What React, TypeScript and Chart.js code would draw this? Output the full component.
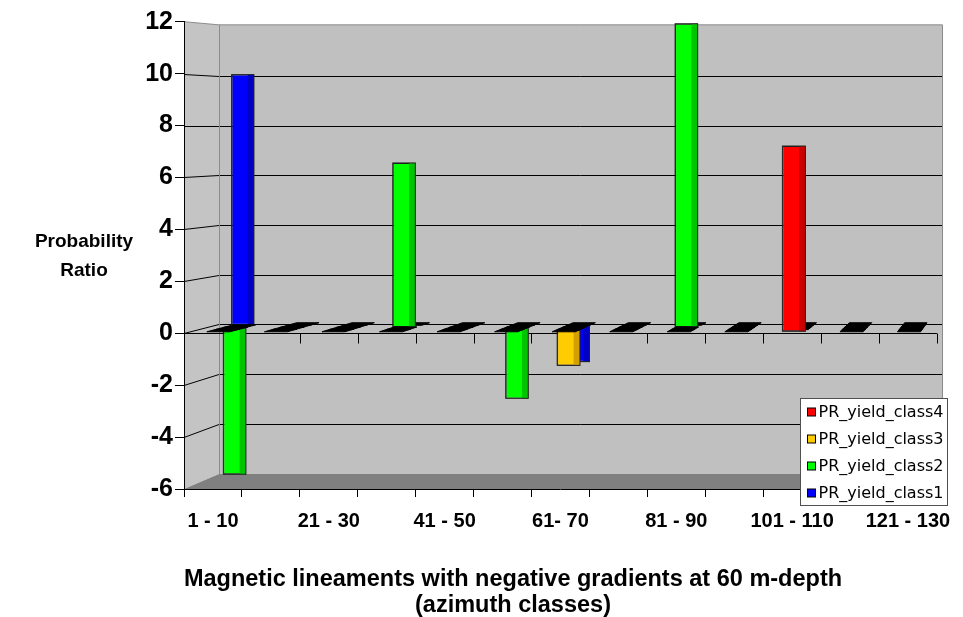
import React, { useEffect, useRef } from 'react';
import { Chart, registerables } from 'chart.js';

Chart.register(...registerables);

// ---------- data ----------
const categories = [
  '1 - 10', '11 - 20', '21 - 30', '31 - 40', '41 - 50', '51 - 60', '61- 70',
  '71 - 80', '81 - 90', '91 - 100', '101 - 110', '111 - 120', '121 - 130',
];
const seriesNames = ['PR_yield_class4', 'PR_yield_class3', 'PR_yield_class2', 'PR_yield_class1'];
const class4 = [0, 0, 0, 0, 0, 0, 0, 0, 0, 0, 7.2, 0, 0];
const class3 = [0, 0, 0, 0, 0, 0, -1.4, 0, 0, 0, 0, 0, 0];
const class2 = [-5.8, 0, 0, 6.5, 0, -2.8, 0, 0, 12, 0, 0, 0, 0];
const class1 = [10, 0, 0, 0, 0, 0, -1.45, 0, 0, 0, 0, 0, 0];
const yMin = -6;
const yMax = 12;
const yStep = 2;
const yTitle = ['Probability', 'Ratio'];
const xTitle = ['Magnetic lineaments with negative gradients at 60 m-depth', '(azimuth classes)'];

// ---------- styles ----------
const COLORS = ['#FF0000', '#FFCC00', '#00FF00', '#0000FF'];
const SHADES = ['#C80000', '#D2A000', '#00C400', '#0000C0'];
const BORDER = '#202020';
const DEPTH = [0.16, 0.4, 0.64, 0.88];
const WALL = { dx: 35, dy: -9, k: 0.961 };
const FONT = "'Liberation Sans', Arial, sans-serif";

const threeD = {
  id: 'threeD',
  beforeDraw(chart: any) {
    const { ctx, chartArea: a, scales } = chart;
    const ys = scales.y;
    const xs = scales.x;
    const z = ys.getPixelForValue(0);
    const B = (x: number, y: number) => [a.left + WALL.dx + (x - a.left) * WALL.k, z + WALL.dy + (y - z) * WALL.k];
    const poly = (pts: number[][], fill: string) => {
      ctx.beginPath();
      pts.forEach((p, i) => (i ? ctx.lineTo(p[0], p[1]) : ctx.moveTo(p[0], p[1])));
      ctx.closePath();
      ctx.fillStyle = fill;
      ctx.fill();
    };
    const line = (pts: number[][]) => {
      ctx.beginPath();
      pts.forEach((p, i) => (i ? ctx.lineTo(p[0], p[1]) : ctx.moveTo(p[0], p[1])));
      ctx.stroke();
    };
    ctx.save();
    poly([[a.left, a.top], B(a.left, a.top), B(a.left, a.bottom), [a.left, a.bottom]], '#C4C4C4');
    poly([B(a.left, a.top), B(a.right, a.top), B(a.right, a.bottom), B(a.left, a.bottom)], '#C0C0C0');
    poly([[a.left, a.bottom], B(a.left, a.bottom), B(a.right, a.bottom), [a.right, a.bottom]], '#808080');

    ctx.lineWidth = 1;
    ctx.strokeStyle = '#000';
    ys.ticks.forEach((t: any) => {
      if (t.value <= ys.min || t.value >= ys.max) return;
      const yf = Math.round(ys.getPixelForValue(t.value)) + 0.5;
      const p = B(a.left, yf);
      const q = B(a.right, yf);
      line([[a.left, yf], [p[0], Math.round(p[1]) + 0.5], [q[0], Math.round(q[1]) + 0.5]]);
    });

    ctx.strokeStyle = '#8C8C8C';
    const tl = B(a.left, a.top);
    const tr = B(a.right, a.top);
    const br = B(a.right, a.bottom);
    const bl = B(a.left, a.bottom);
    line([[a.left, a.top], tl, tr, br]);
    line([[Math.round(tl[0]) + 0.5, tl[1]], [Math.round(bl[0]) + 0.5, bl[1]]]);

    // front zero plane edge with ticks
    ctx.strokeStyle = '#000';
    const zz = Math.round(z) + 0.5;
    line([[a.left, zz], [a.right, zz]]);
    const n = categories.length;
    const half = (xs.getPixelForValue(1) - xs.getPixelForValue(0)) / 2;
    for (let i = 1; i <= n; i++) {
      const bx = Math.round(xs.getPixelForValue(i - 1) + half) + 0.5;
      line([[bx, zz], [bx, zz + 10]]);
    }
    ctx.restore();
  },
  beforeDatasetDraw(chart: any, args: any) {
    const { ctx, chartArea: a, scales } = chart;
    const z = scales.y.getPixelForValue(0);
    const t = DEPTH[args.index];
    const s = 1 - t * (1 - WALL.k);
    const tx = t * (a.left + WALL.dx - WALL.k * a.left);
    const ty = t * (z + WALL.dy - WALL.k * z);
    ctx.save();
    ctx.translate(tx, ty);
    ctx.scale(s, s);
  },
  afterDatasetDraw(chart: any, args: any) {
    const { ctx, chartArea: a, scales } = chart;
    const z = scales.y.getPixelForValue(0);
    const i = args.index;
    const ds = chart.data.datasets[i];
    args.meta.data.forEach((el: any, j: number) => {
      const v = ds.data[j];
      const { x, y, base, width } = el.getProps(['x', 'y', 'base', 'width'], true);
      if (v !== 0) {
        const top = Math.min(y, base);
        const h = Math.abs(base - y);
        const sw = width * 0.28;
        ctx.fillStyle = SHADES[i];
        ctx.fillRect(x + width / 2 - sw, top, sw, h);
        ctx.strokeStyle = BORDER;
        ctx.lineWidth = 1;
        ctx.strokeRect(x - width / 2, top, width, h);
      }
      if (v <= 0) {
        const d = 0.3;
        const ddx = d * (WALL.dx + (WALL.k - 1) * (x - a.left));
        const ddy = d * WALL.dy;
        ctx.beginPath();
        ctx.moveTo(x - width / 2, z);
        ctx.lineTo(x + width / 2, z);
        ctx.lineTo(x + width / 2 + ddx, z + ddy);
        ctx.lineTo(x - width / 2 + ddx, z + ddy);
        ctx.closePath();
        ctx.fillStyle = '#000';
        ctx.fill();
        ctx.strokeStyle = '#000';
        ctx.lineWidth = 1;
        ctx.stroke();
      }
    });
    ctx.restore();
  },
  afterDraw(chart: any) {
    const { ctx, chartArea: a } = chart;
    ctx.save();
    // axis titles
    ctx.fillStyle = '#000';
    ctx.textAlign = 'center';
    ctx.textBaseline = 'middle';
    ctx.font = `bold 19px ${FONT}`;
    ctx.fillText(yTitle[0], a.left - 100, 242);
    ctx.fillText(yTitle[1], a.left - 100, 271);
    ctx.font = `bold 23.5px ${FONT}`;
    ctx.fillText(xTitle[0], a.left + 329, 580);
    ctx.fillText(xTitle[1], a.left + 329, 606);

    // legend
    const lx = 800.5;
    const ly = 398.5;
    const lw = 147;
    const lh = 107;
    ctx.fillStyle = '#fff';
    ctx.fillRect(lx, ly, lw, lh);
    ctx.strokeStyle = '#505050';
    ctx.lineWidth = 1;
    ctx.strokeRect(lx, ly, lw, lh);
    ctx.font = `16px 'DejaVu Sans', sans-serif`;
    ctx.textAlign = 'left';
    chart.data.datasets.forEach((ds: any, i: number) => {
      const cy = ly + 13.5 + i * 27;
      ctx.fillStyle = ds.backgroundColor;
      ctx.fillRect(lx + 7, Math.round(cy) - 4, 8, 8);
      ctx.strokeStyle = '#000';
      ctx.strokeRect(lx + 7, Math.round(cy) - 4, 8, 8);
      ctx.fillStyle = '#000';
      ctx.fillText(ds.label, lx + 18, cy + 1);
    });
    ctx.restore();
  },
};

export default function App() {
  const ref = useRef<HTMLCanvasElement>(null);
  useEffect(() => {
    const seriesData = [class4, class3, class2, class1];
    const chart = new Chart(ref.current as HTMLCanvasElement, {
      type: 'bar',
      data: {
        labels: categories,
        datasets: seriesNames.map((name, i) => ({
          label: name,
          data: seriesData[i],
          backgroundColor: COLORS[i],
          borderColor: BORDER,
          borderWidth: 1,
          borderSkipped: false,
          grouped: false,
          barPercentage: 0.4,
          categoryPercentage: 1,
          clip: false,
        })),
      } as any,
      options: {
        responsive: true,
        maintainAspectRatio: false,
        animation: false,
        events: [],
        layout: { padding: { top: 21.7, right: 21, left: 0, bottom: 0 } },
        plugins: { legend: { display: false }, tooltip: { enabled: false } },
        scales: {
          x: {
            offset: true,
            grid: { offset: true, drawOnChartArea: false, drawTicks: true, tickLength: 8, color: '#000' },
            border: { color: '#000', width: 1 },
            ticks: {
              autoSkip: false,
              maxRotation: 0,
              minRotation: 0,
              padding: 12,
              color: '#000',
              font: { family: FONT, size: 20, weight: 'bold' },
              callback: function (this: any, value: any, index: number) {
                return index % 2 === 0 ? this.getLabelForValue(value) : '';
              },
            },
            afterFit: (scale: any) => {
              scale.height = 128;
            },
          },
          y: {
            min: yMin,
            max: yMax,
            grid: { drawOnChartArea: false, drawTicks: true, tickLength: 9, color: '#000' },
            border: { color: '#000', width: 1 },
            ticks: {
              stepSize: yStep,
              padding: 2,
              color: '#000',
              font: { family: FONT, size: 25, weight: 'bold' },
            },
            afterFit: (scale: any) => {
              scale.width = 184;
            },
          },
        },
      } as any,
      plugins: [threeD],
    });
    return () => chart.destroy();
  }, []);
  return (
    <div style={{ position: 'fixed', left: 0, top: 0, width: 963, height: 617, background: '#fff' }}>
      <canvas ref={ref} />
    </div>
  );
}
